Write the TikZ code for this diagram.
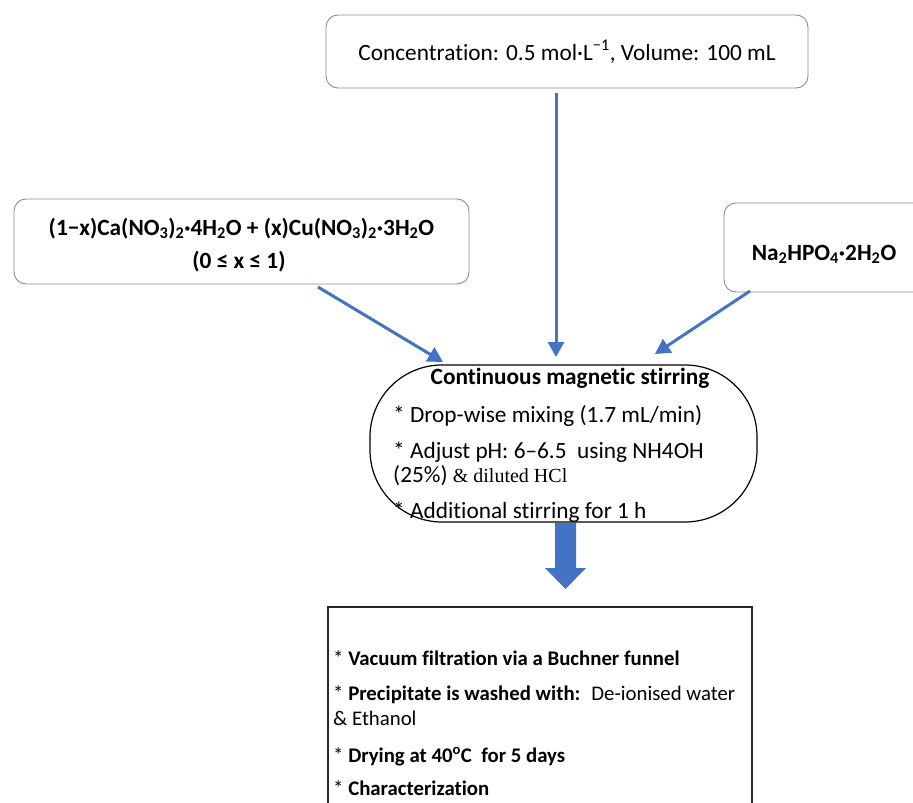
\documentclass[tikz,border=0pt]{standalone}
\usepackage{fontspec}
\setmainfont[Ligatures=NoCommon]{Carlito}
\newfontfamily\timesf{Liberation Serif}
\usetikzlibrary{arrows.meta}
\definecolor{arrblue}{HTML}{4472C4}
\definecolor{boxgray}{HTML}{8C8C8C}
\begin{document}
\begin{tikzpicture}[x=1pt,y=-1pt,
  rbox/.style={draw=boxgray, line width=0.9pt, rounded corners=12pt, inner sep=0pt},
  feed/.style={draw=arrblue, line width=3pt, -{Triangle[length=15pt,width=16pt]}},
  txt/.style={inner sep=0pt, font=\fontsize{23.3}{27}\selectfont},
  btxt/.style={inner sep=0pt, font=\fontsize{23.3}{27}\selectfont\bfseries},
  ptxt/.style={inner sep=0pt, font=\fontsize{20.8}{24}\selectfont},
]
\useasboundingbox (0,0) rectangle (913,803);
% boxes
\node[rbox, minimum width=482pt, minimum height=73pt] (conc) at (567,51.5) {};
\node[rbox, minimum width=455pt, minimum height=85pt] (mix) at (241.5,241.5) {};
\node[rbox, minimum width=206pt, minimum height=89pt] (na) at (827,247.5) {};
\node[draw=black, line width=1.2pt, rounded corners=72pt, minimum width=387pt, minimum height=157pt, inner sep=0pt] (stir) at (563.5,443.5) {};
\node[draw=black!85, line width=1.6pt, minimum width=424pt, minimum height=223pt, inner sep=0pt] (proc) at (540,718.5) {};
% texts
\node[txt, anchor=base] (t1) at (567,60) {Concentration: 0.5 mol·L\textsuperscript{−1}, Volume: 100 mL};
\node[btxt, anchor=base] (l1) at (241.5,235) {(1−x)Ca(NO\textsubscript{3})\textsubscript{2}·4H\textsubscript{2}O + (x)Cu(NO\textsubscript{3})\textsubscript{2}·3H\textsubscript{2}O};
\node[btxt, anchor=base] (l2) at (239,268) {(0 ≤ x ≤ 1)};
\node[btxt, anchor=base] (r1) at (824,260) {Na\textsubscript{2}HPO\textsubscript{4}·2H\textsubscript{2}O};
\node[btxt, anchor=base] (s0) at (570,384) {Continuous magnetic stirring};
\node[txt, anchor=base west] (s1) at (393,422) {* Drop-wise mixing (1.7 mL/min)};
\node[txt, anchor=base west] (s2) at (393,458) {* Adjust pH: 6–6.5~ using NH4OH};
\node[txt, anchor=base west] (s3) at (393,482) {(25\%) {\timesf\fontsize{20}{23}\selectfont \& diluted HCl}};
\node[txt, anchor=base west] (s4) at (393,518) {* Additional stirring for 1 h};
\node[ptxt, anchor=base west] (p1) at (333,665) {* \textbf{Vacuum filtration via a Buchner funnel}};
\node[ptxt, anchor=base west] (p2) at (333,700) {* \textbf{Precipitate is washed with:}~ De-ionised water};
\node[ptxt, anchor=base west] (p3) at (333,725) {\& Ethanol};
\node[ptxt, anchor=base west] (p4) at (333,762) {* \textbf{Drying at 40\textsuperscript{o}C~ for 5 days}};
\node[ptxt, anchor=base west] (p5) at (333,795) {* \textbf{Characterization}};
% arrows
\coordinate (vs) at (556,93);
\coordinate (ve) at (556,357);
\coordinate (ls) at (318,287);
\coordinate (le) at (443,362);
\coordinate (rs) at (750,291);
\coordinate (re) at (655,354);
\draw[feed] (vs) -- (ve);
\draw[feed] (ls) -- (le);
\draw[feed] (rs) -- (re);
\fill[arrblue] (555,523) -- (576,523) -- (576,568) -- (586,568) -- (565.5,589) -- (545,568) -- (555,568) -- cycle;
\end{tikzpicture}
\end{document}
